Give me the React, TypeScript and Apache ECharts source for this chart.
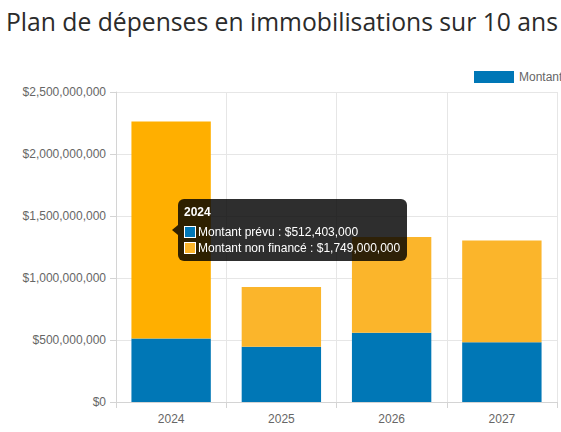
import React, { useEffect, useRef } from 'react';
import * as echarts from 'echarts';

const years = ['2024', '2025', '2026', '2027'];
const plannedAmounts = [512403000, 446000000, 559000000, 481000000];
const unfundedAmounts = [1749000000, 481000000, 772000000, 822000000];
const seriesNames = ['Montant prévu', 'Montant non financé'];

const BLUE = '#0077b6';
const ORANGE = '#fbb52b';
const ORANGE_ACTIVE = '#ffaf00';

const fmtMoney = (v: number) => '$' + v.toLocaleString('en-US');

const CapexChart: React.FC = () => {
  const chartRef = useRef<HTMLDivElement>(null);

  useEffect(() => {
    document.body.style.margin = '0';
    if (!chartRef.current) return;
    const chart = echarts.init(chartRef.current, undefined, { renderer: 'svg' });

    const tooltipHtml = (idx: number) => {
      const row = (color: string, text: string) =>
        `<div style="display:flex;align-items:center;height:16px;white-space:nowrap">` +
        `<span style="display:inline-block;width:10px;height:10px;background:${color};border:1px solid #fff;margin-right:2px"></span>` +
        `${text}</div>`;
      return (
        `<span style="position:absolute;left:-6px;top:26px;width:0;height:0;border-top:5px solid transparent;border-bottom:5px solid transparent;border-right:6px solid rgba(0,0,0,0.82)"></span>` +
        `<div style="font-weight:bold;height:14px;line-height:14px;margin-bottom:5px">${years[idx]}</div>` +
        row(BLUE, `${seriesNames[0]} : ${fmtMoney(plannedAmounts[idx])}`) +
        row(ORANGE, `${seriesNames[1]} : ${fmtMoney(unfundedAmounts[idx])}`)
      );
    };

    chart.setOption({
      animation: false,
      backgroundColor: '#ffffff',
      title: {
        text: 'Plan de dépenses en immobilisations sur 10 ans',
        left: 6,
        top: 9,
        padding: 0,
        textStyle: {
          fontFamily: 'Open Sans',
          fontSize: 24.7,
          fontWeight: 'normal',
          color: '#2b2b2b',
        },
      },
      legend: {
        left: 474,
        top: 71,
        width: 1000,
        padding: 0,
        itemWidth: 40,
        itemHeight: 12,
        itemGap: 10,
        icon: 'rect',
        data: seriesNames,
        textStyle: { color: '#666666', fontSize: 12, fontFamily: 'Liberation Sans' },
      },
      tooltip: {
        trigger: 'axis',
        triggerOn: 'none',
        alwaysShowContent: true,
        transitionDuration: 0,
        axisPointer: { type: 'none' },
        position: [178, 199],
        backgroundColor: 'rgba(0,0,0,0.82)',
        borderWidth: 0,
        borderRadius: 6,
        padding: [6, 7, 5, 6],
        textStyle: { color: '#ffffff', fontSize: 12, fontFamily: 'Liberation Sans' },
        extraCssText: 'box-shadow:none;overflow:visible;',
        formatter: (params: any) => tooltipHtml(params[0].dataIndex),
      },
      grid: { left: 116, right: 4, top: 92, bottom: 30 },
      xAxis: {
        type: 'category',
        data: years,
        axisLine: { lineStyle: { color: '#d4d4d4' } },
        axisTick: { show: true, length: 6, lineStyle: { color: '#d4d4d4' } },
        axisLabel: { color: '#666666', fontSize: 12, fontFamily: 'Liberation Sans', margin: 11 },
        splitLine: { show: true, lineStyle: { color: '#e6e6e6' } },
      },
      yAxis: {
        type: 'value',
        min: 0,
        max: 2500000000,
        interval: 500000000,
        axisLine: { show: true, lineStyle: { color: '#d4d4d4' } },
        axisTick: { show: true, length: 6, lineStyle: { color: '#d4d4d4' } },
        axisLabel: {
          color: '#666666',
          fontSize: 12,
          fontFamily: 'Liberation Sans',
          margin: 10,
          formatter: (v: number) => fmtMoney(v),
        },
        splitLine: { lineStyle: { color: '#e6e6e6' } },
      },
      series: [
        {
          name: seriesNames[0],
          type: 'bar',
          stack: 'total',
          barWidth: '72%',
          itemStyle: { color: BLUE },
          emphasis: { disabled: true },
          data: plannedAmounts,
        },
        {
          name: seriesNames[1],
          type: 'bar',
          stack: 'total',
          barWidth: '72%',
          itemStyle: { color: ORANGE },
          emphasis: { disabled: true },
          data: unfundedAmounts.map((v, i) =>
            i === 0 ? { value: v, itemStyle: { color: ORANGE_ACTIVE } } : v
          ),
        },
      ],
    });

    chart.dispatchAction({ type: 'showTip', seriesIndex: 0, dataIndex: 0 });

    const handleResize = () => chart.resize();
    window.addEventListener('resize', handleResize);
    return () => {
      window.removeEventListener('resize', handleResize);
      chart.dispose();
    };
  }, []);

  return <div ref={chartRef} style={{ width: '561px', height: '432px' }} />;
};

export default CapexChart;
